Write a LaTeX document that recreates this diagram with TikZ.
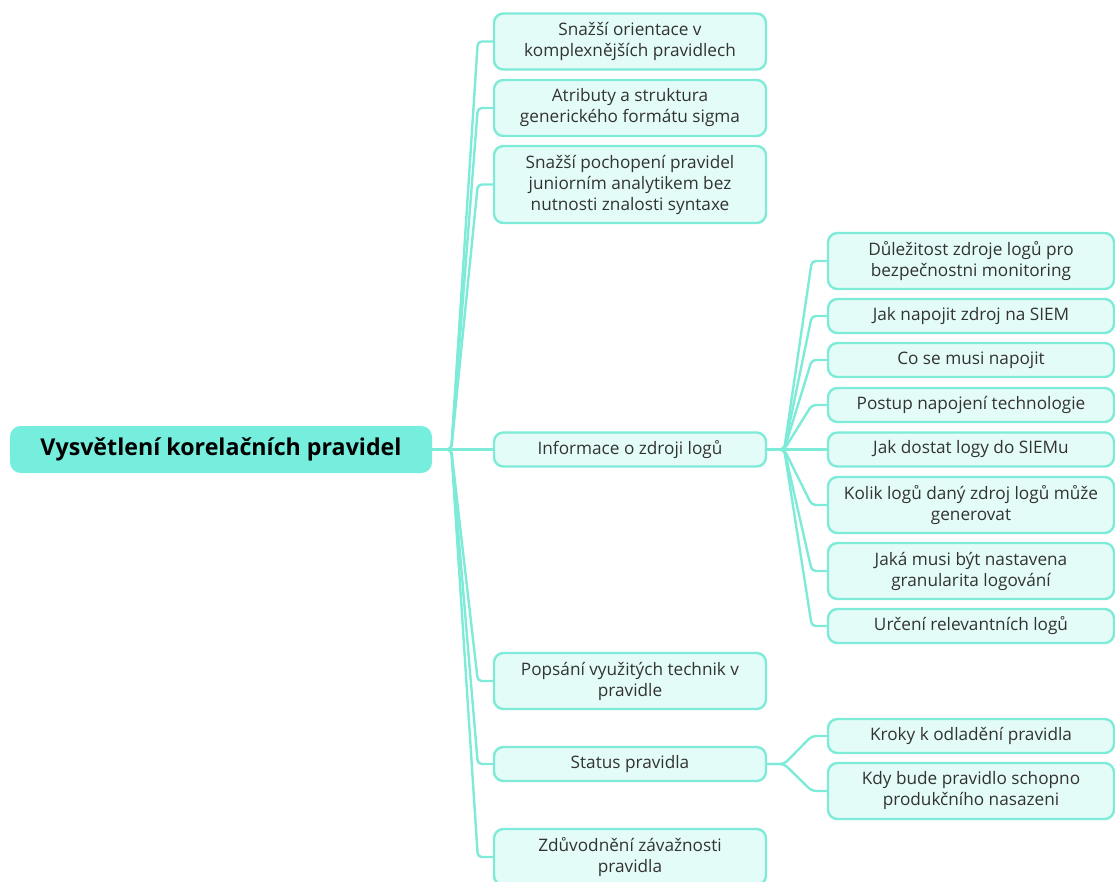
\documentclass[tikz,border=0pt]{standalone}
\usepackage{fontspec}
\setmainfont{Open Sans}
\usetikzlibrary{calc}
\definecolor{mint}{HTML}{7DEBD8}
\definecolor{mintfill}{HTML}{E3FCF7}
\definecolor{rootfill}{HTML}{76EEDD}
\definecolor{txt}{HTML}{333333}
\begin{document}
\begin{tikzpicture}[x=0.75pt,y=-0.75pt,
 box/.style={draw=mint, fill=mintfill, line width=1.8pt, rounded corners=7pt, align=center, text=txt, font=\fontsize{12.9}{15.75}\selectfont, inner sep=0pt},
 l1/.style={box, minimum width=204pt},
 l2/.style={box, minimum width=214.5pt},
 one/.style={minimum height=25.5pt},
 two/.style={minimum height=42pt},
 three/.style={minimum height=57.75pt},
 conn/.style={draw=mint, line width=1.8pt, rounded corners=3pt},
 rootbox/.style={fill=rootfill, rounded corners=8pt, minimum width=316.5pt, minimum height=35.25pt, inner sep=0pt, font=\bfseries\fontsize{17.4}{20}\selectfont, text=black}
]
\useasboundingbox (0,0) rectangle (1115,882);
\node[rootbox] (root) at (221,449.5) {Vysvětlení korelačních pravidel};
\node[l1,two] (a1) at (630,41.5) {Snažší orientace v\\komplexnějších pravidlech};
\node[l1,two] (a2) at (630,108) {Atributy a struktura\\generického formátu sigma};
\node[l1,three] (a3) at (630,184.5) {Snažší pochopení pravidel\\juniorním analytikem bez\\nutnosti znalosti syntaxe};
\node[l1,one] (a4) at (630,449.5) {Informace o zdroji logů};
\node[l1,two] (a5) at (630,681) {Popsání využitých technik v\\pravidle};
\node[l1,one] (a6) at (630,764) {Status pravidla};
\node[l1,two] (a7) at (630,857) {Zdůvodnění závažnosti\\pravidla};
\node[l2,two] (b1) at (971,261) {Důležitost zdroje logů pro\\bezpečnostni monitoring};
\node[l2,one] (b2) at (971,316) {Jak napojit zdroj na SIEM};
\node[l2,one] (b3) at (971,360) {Co se musi napojit};
\node[l2,one] (b4) at (971,405) {Postup napojení technologie};
\node[l2,one] (b5) at (971,449.5) {Jak dostat logy do SIEMu};
\node[l2,two] (b6) at (971,505) {Kolik logů daný zdroj logů může\\generovat};
\node[l2,two] (b7) at (971,571) {Jaká musi být nastavena\\granularita logování};
\node[l2,one] (b8) at (971,626) {Určení relevantních logů};
\node[l2,one] (c1) at (971,736) {Kroky k odladění pravidla};
\node[l2,two] (c2) at (971,791) {Kdy bude pravidlo schopno\\produkčního nasazeni};
\coordinate (j0) at ($(root.east)+(19,0)$);
\foreach \n in {a1,a2,a3,a4,a5,a6,a7}
  \draw[conn] (root.east) -- (j0) -- ($(\n.west)+(-15,0)$) -- (\n.west);
\coordinate (j1) at ($(a4.east)+(17,0)$);
\foreach \n in {b1,b2,b3,b4,b5,b6,b7,b8}
  \draw[conn] (a4.east) -- (j1) -- ($(\n.west)+(-15,0)$) -- (\n.west);
\coordinate (j2) at ($(a6.east)+(17,0)$);
\foreach \n in {c1,c2}
  \draw[conn] (a6.east) -- (j2) -- ($(\n.west)+(-15,0)$) -- (\n.west);
\end{tikzpicture}
\end{document}
